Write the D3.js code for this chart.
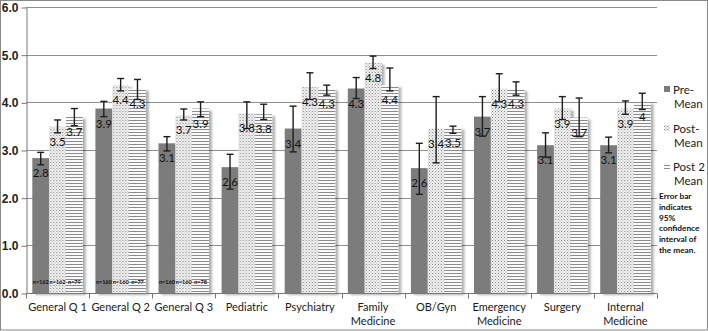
<!DOCTYPE html>
<html>
<head>
<meta charset="utf-8">
<script src="https://cdn.jsdelivr.net/npm/d3@7"></script>
<style>
  body { margin: 0; background: #fff; }
  svg { display: block; font-family: Lato, "Open Sans", sans-serif; }
</style>
</head>
<body>
<div id="chart"></div>
<script>
// Pre / Post / Post 2 means with 95% CI
const categories = ["General Q 1", "General Q 2", "General Q 3", "Pediatric", "Psychiatry",
    "Family Medicine", "OB/Gyn", "Emergency Medicine", "Surgery", "Internal Medicine"];
const seriesNames = ["Pre-Mean", "Post-Mean", "Post 2 Mean"];

const preMean   = [2.83, 3.87, 3.14, 2.64, 3.45, 4.29, 2.62, 3.70, 3.10, 3.10];
const preLow    = [2.69, 3.70, 2.98, 2.18, 2.96, 4.08, 2.07, 3.29, 2.85, 2.94];
const preHigh   = [2.95, 4.02, 3.28, 2.91, 3.92, 4.52, 3.14, 4.12, 3.36, 3.27];
const postMean  = [3.49, 4.36, 3.73, 3.77, 4.32, 4.83, 3.45, 4.29, 3.87, 3.87];
const postLow   = [3.36, 4.24, 3.63, 3.45, 4.06, 4.71, 2.73, 4.01, 3.64, 3.75];
const postHigh  = [3.63, 4.50, 3.86, 4.01, 4.62, 4.97, 4.12, 4.60, 4.12, 4.03];
const post2Mean = [3.70, 4.29, 3.87, 3.75, 4.29, 4.36, 3.47, 4.28, 3.68, 4.01];
const post2Low  = [3.51, 4.06, 3.70, 3.64, 4.15, 4.24, 3.35, 4.15, 3.28, 3.85];
const post2High = [3.87, 4.48, 4.01, 3.96, 4.36, 4.72, 3.50, 4.43, 4.09, 4.19];

const preLabels   = ["2.8", "3.9", "3.1", "2.6", "3.4", "4.3", "2.6", "3.7", "3.1", "3.1"];
const postLabels  = ["3.5", "4.4", "3.7", "3.8", "4.3", "4.8", "3.4", "4.3", "3.9", "3.9"];
const post2Labels = ["3.7", "4.3", "3.9", "3.8", "4.3", "4.4", "3.5", "4.3", "3.7", "4"];

const nLabels = [["n=162", "n=162", "n=79"], ["n=160", "n=160", "n=77"], ["n=160", "n=160", "n=78"]];
const yTicks = [0, 1, 2, 3, 4, 5, 6];
const noteLines = ["Error bar", "indicates", "95%", "confidence", "interval of", "the mean."];

const W = 708, H = 331;
const plot = { left: 26, right: 657, top: 7, bottom: 293 };

const svg = d3.select("#chart").append("svg")
    .attr("width", W).attr("height", H);

const defs = svg.append("defs");
const dots = defs.append("pattern").attr("id", "dots")
    .attr("patternUnits", "userSpaceOnUse").attr("width", 3).attr("height", 3);
dots.append("rect").attr("width", 3).attr("height", 3).attr("fill", "#f2f2f2");
dots.append("rect").attr("x", 0).attr("y", 0).attr("width", 1).attr("height", 1).attr("fill", "#848484");
dots.append("rect").attr("x", 1.5).attr("y", 1.5).attr("width", 1).attr("height", 1).attr("fill", "#aaaaaa");

const stripes = defs.append("pattern").attr("id", "stripes")
    .attr("patternUnits", "userSpaceOnUse").attr("width", 4).attr("height", 3);
stripes.append("rect").attr("width", 4).attr("height", 3).attr("fill", "#fafafa");
stripes.append("rect").attr("y", 0).attr("width", 4).attr("height", 1).attr("fill", "#8c8c8c");

const shadow = defs.append("filter").attr("id", "shadow")
    .attr("x", "-20%").attr("y", "-5%").attr("width", "160%").attr("height", "115%");
shadow.append("feDropShadow").attr("dx", 3).attr("dy", 2).attr("stdDeviation", 1.2)
    .attr("flood-color", "#000").attr("flood-opacity", 0.3);

const fills = ["#7b7b7b", "url(#dots)", "url(#stripes)"];

// outer frame
svg.append("rect").attr("x", 0.5).attr("y", 0.5).attr("width", W - 1).attr("height", H - 1.5)
    .attr("fill", "none").attr("stroke", "#8a8a8a");

const x = d3.scaleBand().domain(categories).range([plot.left, plot.right])
    .paddingInner(0.2).paddingOuter(0.1);
const xs = d3.scaleBand().domain(seriesNames).range([0, x.bandwidth()]);
const y = d3.scaleLinear().domain([0, 6]).range([plot.bottom, plot.top]);

// gridlines
svg.append("g").selectAll("line").data(yTicks.slice(1)).join("line")
    .attr("x1", plot.left).attr("x2", plot.right)
    .attr("y1", d => Math.round(y(d)) + 0.5).attr("y2", d => Math.round(y(d)) + 0.5)
    .attr("stroke", "#8f8f8f");

// y axis
const yAxis = svg.append("g").attr("transform", `translate(${plot.left + 0.5},0.5)`)
    .call(d3.axisLeft(y).tickValues(yTicks).tickFormat(d3.format(".1f")).tickSize(5).tickSizeOuter(0));
yAxis.select(".domain").attr("stroke", "#777");
yAxis.selectAll(".tick line").attr("stroke", "#777");
yAxis.selectAll("text").attr("font-size", 12).attr("font-weight", "bold")
    .attr("fill", "#222").attr("x", -8);

const rows = categories.map((c, i) => ({
    cat: c, i,
    vals: [
        { s: 0, v: preMean[i], lo: preLow[i], hi: preHigh[i], lab: preLabels[i] },
        { s: 1, v: postMean[i], lo: postLow[i], hi: postHigh[i], lab: postLabels[i] },
        { s: 2, v: post2Mean[i], lo: post2Low[i], hi: post2High[i], lab: post2Labels[i] }
    ]
}));

const groups = svg.append("g").selectAll("g").data(rows).join("g")
    .attr("transform", d => `translate(${x(d.cat)},0)`);

groups.selectAll("rect").data(d => d.vals).join("rect")
    .attr("x", d => xs(seriesNames[d.s]))
    .attr("y", d => y(d.v))
    .attr("width", xs.bandwidth())
    .attr("height", d => y(0) - y(d.v))
    .attr("fill", d => fills[d.s])
    .attr("filter", "url(#shadow)");

// value labels
groups.selectAll("text.val").data(d => d.vals).join("text")
    .attr("class", "val")
    .attr("x", d => xs(seriesNames[d.s]) + xs.bandwidth() / 2)
    .attr("y", d => y(d.v) + 19)
    .attr("text-anchor", "middle")
    .attr("font-size", 11.5)
    .attr("fill", "#111")
    .text(d => d.lab);

// error bars
const eb = groups.selectAll("g.err").data(d => d.vals).join("g").attr("class", "err")
    .attr("stroke", "#1e1e1e").attr("stroke-width", 1.4);
eb.append("line")
    .attr("x1", d => xs(seriesNames[d.s]) + xs.bandwidth() / 2)
    .attr("x2", d => xs(seriesNames[d.s]) + xs.bandwidth() / 2)
    .attr("y1", d => y(d.lo)).attr("y2", d => y(d.hi));
eb.selectAll("line.cap").data(d => [d.lo, d.hi].map(v => ({ s: d.s, v }))).join("line")
    .attr("class", "cap")
    .attr("x1", d => xs(seriesNames[d.s]) + xs.bandwidth() / 2 - 3.5)
    .attr("x2", d => xs(seriesNames[d.s]) + xs.bandwidth() / 2 + 3.5)
    .attr("y1", d => y(d.v)).attr("y2", d => y(d.v));

// sample sizes
groups.filter(d => d.i < nLabels.length).selectAll("text.n")
    .data(d => nLabels[d.i].map((t, s) => ({ t, s }))).join("text")
    .attr("class", "n")
    .attr("x", d => xs(seriesNames[d.s]) + xs.bandwidth() / 2)
    .attr("y", y(0) - 9)
    .attr("text-anchor", "middle")
    .attr("font-size", 5.5)
    .attr("font-weight", "bold")
    .attr("fill", "#111")
    .text(d => d.t);

// x axis
const xAxis = svg.append("g").attr("transform", `translate(0,${plot.bottom + 0.5})`);
xAxis.append("line").attr("x1", plot.left).attr("x2", plot.right).attr("stroke", "#777");
const step = x.step();
xAxis.selectAll("line.tick").data(d3.range(categories.length + 1)).join("line")
    .attr("class", "tick")
    .attr("x1", i => Math.round(plot.left + i * step) + 0.5)
    .attr("x2", i => Math.round(plot.left + i * step) + 0.5)
    .attr("y1", 0).attr("y2", 5).attr("stroke", "#777");

const xl = svg.append("g").selectAll("text").data(categories).join("text")
    .attr("x", d => x(d) + x.bandwidth() / 2)
    .attr("y", plot.bottom + 18)
    .attr("text-anchor", "middle")
    .attr("font-size", 11)
    .attr("fill", "#1a1a1a");
xl.each(function(d) {
    const lines = d.startsWith("General") ? [d] : d.split(" ");
    d3.select(this).selectAll("tspan").data(lines).join("tspan")
        .attr("x", x(d) + x.bandwidth() / 2)
        .attr("dy", (l, j) => j ? 14 : 0)
        .text(l => l);
});

// legend
const legend = svg.append("g").attr("transform", "translate(664,0)");
const legendRows = [["Pre-", "Mean"], ["Post-", "Mean"], ["Post 2", "Mean"]];
const legendY = [94, 133, 171];
legendRows.forEach((lines, k) => {
    legend.append("rect").attr("x", 0).attr("y", legendY[k] - 8).attr("width", 6).attr("height", 6)
        .attr("fill", fills[k]);
    lines.forEach((t, j) => {
        legend.append("text").attr("x", j ? 10 : 9).attr("y", legendY[k] + j * 14)
            .attr("font-size", 11.5).attr("fill", "#222").text(t);
    });
});

// note
svg.append("g").selectAll("text").data(noteLines).join("text")
    .attr("x", 659).attr("y", (d, i) => 199 + i * 10.8)
    .attr("font-size", 8.3).attr("font-weight", "bold").attr("fill", "#111")
    .text(d => d);
</script>
</body>
</html>
